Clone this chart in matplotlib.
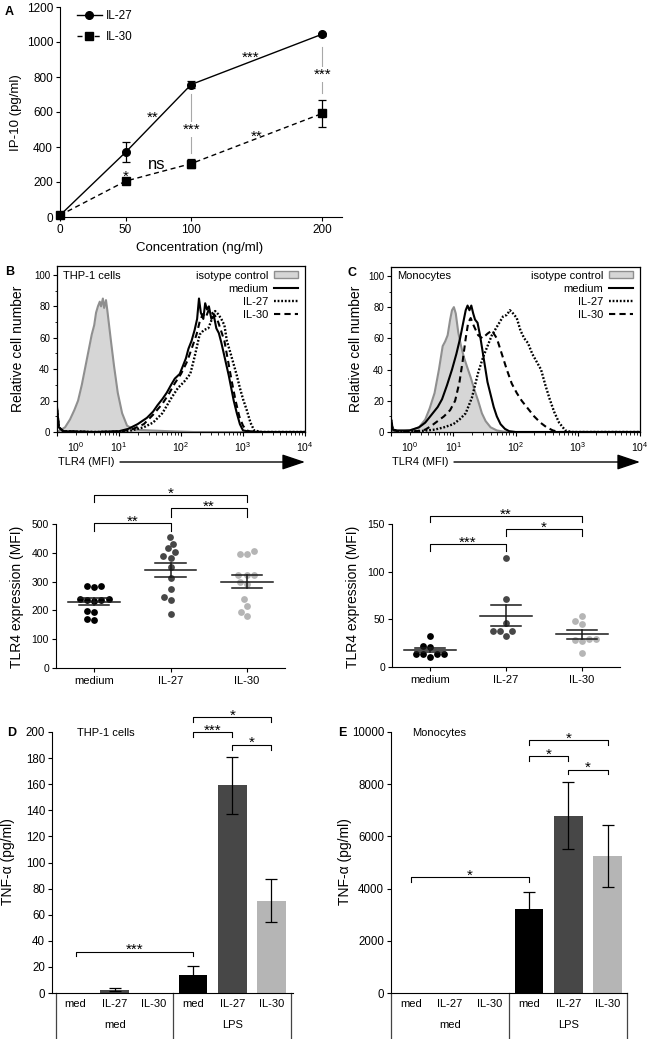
import numpy as np
import matplotlib
matplotlib.use('Agg')
import matplotlib.pyplot as plt
from matplotlib.lines import Line2D
from matplotlib.patches import Patch
from matplotlib.transforms import ScaledTranslation, blended_transform_factory
from matplotlib.ticker import FixedLocator, NullFormatter, LogLocator, MultipleLocator

plt.rcParams['font.family'] = ['Liberation Sans', 'DejaVu Sans']
plt.rcParams['mathtext.fontset'] = 'custom'
plt.rcParams['mathtext.rm'] = 'Liberation Sans'
plt.rcParams['mathtext.it'] = 'Liberation Sans'
plt.rcParams['mathtext.bf'] = 'Liberation Sans:bold'
plt.rcParams['lines.scale_dashes'] = False
plt.rcParams['axes.linewidth'] = 0.8
for a in ('xtick', 'ytick'):
    plt.rcParams[a + '.direction'] = 'out'
    plt.rcParams[a + '.major.size'] = 3
    plt.rcParams[a + '.major.width'] = 0.8
    plt.rcParams[a + '.minor.size'] = 1.8
    plt.rcParams[a + '.minor.width'] = 0.6
    plt.rcParams[a + '.major.pad'] = 2

# ---------------- data ----------------
# Panel A
conc = [0, 50, 100, 200]
il27_ip10 = [10, 370, 757, 1045]
il27_ip10_err = [4, 58, 20, 8]
il30_ip10 = [10, 205, 305, 592]
il30_ip10_err = [4, 12, 26, 77]

# Panel B histograms (log10 MFI, % of max)
b_iso_log = [0.0, 0.05, 0.13, 0.21, 0.28, 0.34, 0.40, 0.45, 0.50, 0.56, 0.60, 0.63, 0.66, 0.69, 0.71, 0.74,
             0.76, 0.79, 0.81, 0.84, 0.87, 0.92, 0.98, 1.05, 1.13, 1.25, 1.5, 1.8, 2.2, 4.0]
b_iso_val = [0, 1, 3, 8, 14, 20, 30, 40, 50, 62, 68, 76, 80, 83, 80, 85,
             79, 84, 78, 68, 58, 42, 25, 12, 4, 1.5, 1, 0.5, 0, 0]
b_med_log = [0.0, 0.03, 0.1, 0.6, 1.0, 1.15, 1.3, 1.45, 1.55, 1.62, 1.7, 1.77, 1.84, 1.9, 1.98, 2.03, 2.08,
             2.12, 2.17, 2.22, 2.26, 2.29, 2.32, 2.36, 2.39, 2.42, 2.45, 2.49, 2.53, 2.57, 2.61, 2.65, 2.69,
             2.73, 2.77, 2.81, 2.85, 2.9, 2.95, 3.0, 3.1, 3.3, 4.0]
b_med_val = [16, 3, 0.5, 0, 0.5, 2, 5, 9, 13, 17, 21, 25, 30, 34, 37, 42, 47,
             53, 58, 65, 72, 85, 76, 72, 82, 78, 80, 72, 74, 66, 63, 57, 50,
             43, 36, 28, 20, 12, 5, 1, 0.3, 0, 0]
b_il30_log = [0.0, 0.03, 0.1, 0.6, 1.0, 1.2, 1.4, 1.55, 1.7, 1.8, 1.9, 2.0, 2.1, 2.18, 2.25, 2.3, 2.35,
              2.4, 2.45, 2.5, 2.55, 2.6, 2.65, 2.7, 2.76, 2.82, 2.88, 2.94, 3.0, 3.06, 3.12, 3.3, 4.0]
b_il30_val = [15, 3, 0.5, 0, 0.3, 1.5, 5, 11, 18, 24, 31, 37, 45, 54, 62, 70, 75,
              73, 78, 76, 74, 70, 64, 58, 45, 32, 20, 10, 4, 1, 0.3, 0, 0]
b_il27_log = [0.0, 0.03, 0.1, 0.6, 1.0, 1.2, 1.4, 1.55, 1.7, 1.85, 1.95, 2.05, 2.15, 2.22, 2.3, 2.37,
              2.44, 2.5, 2.55, 2.6, 2.65, 2.7, 2.74, 2.8, 2.85, 2.9, 2.95, 3.0, 3.06, 3.12, 3.18, 3.3, 4.0]
b_il27_val = [14, 3, 0.5, 0, 0.2, 1, 3, 6, 12, 22, 28, 32, 37, 48, 62, 65,
              66, 72, 77, 75, 72, 68, 58, 50, 43, 36, 28, 21, 14, 6, 1, 0, 0]

# Panel C histograms
c_iso_log = [0.0, 0.2, 0.35, 0.45, 0.55, 0.62, 0.7, 0.77, 0.83, 0.87, 0.91, 0.95, 0.98, 1.01, 1.04, 1.08,
             1.12, 1.17, 1.22, 1.28, 1.34, 1.4, 1.46, 1.52, 1.6, 1.7, 1.8, 2.0, 4.0]
c_iso_val = [0.5, 0.5, 1.5, 3, 8, 15, 25, 40, 55, 58, 62, 72, 78, 80, 76, 64,
             56, 48, 42, 35, 27, 20, 12, 7, 3, 1, 0.3, 0, 0]
c_med_log = [0.0, 0.03, 0.1, 0.3, 0.45, 0.55, 0.65, 0.75, 0.82, 0.9, 0.98, 1.05, 1.11, 1.16, 1.2, 1.23,
             1.26, 1.29, 1.32, 1.35, 1.39, 1.43, 1.47, 1.51, 1.55, 1.6, 1.65, 1.7, 1.76, 1.83, 1.9, 2.0, 4.0]
c_med_val = [8, 1.5, 1, 1, 3, 6, 11, 16, 21, 30, 40, 50, 60, 70, 78, 81,
             78, 81, 76, 72, 70, 62, 52, 42, 32, 24, 16, 10, 5, 2, 0.5, 0, 0]
c_il30_log = [0.0, 0.03, 0.1, 0.4, 0.55, 0.65, 0.75, 0.85, 0.95, 1.03, 1.1, 1.15, 1.2, 1.24, 1.28, 1.33,
              1.4, 1.47, 1.55, 1.62, 1.7, 1.78, 1.86, 1.94, 2.02, 2.1, 2.2, 2.3, 2.4, 2.5, 2.6, 2.7, 4.0]
c_il30_val = [8, 1.5, 0.5, 0.5, 1.5, 4, 7, 10, 14, 20, 32, 45, 60, 70, 73, 68,
              62, 60, 63, 65, 60, 50, 40, 31, 25, 20, 15, 10, 6, 3, 1, 0, 0]
c_il27_log = [0.0, 0.03, 0.1, 0.45, 0.7, 0.85, 1.0, 1.1, 1.2, 1.3, 1.4, 1.48, 1.55, 1.62, 1.68, 1.74,
              1.8, 1.86, 1.91, 1.96, 2.02, 2.08, 2.14, 2.2, 2.27, 2.34, 2.41, 2.48, 2.55, 2.62, 2.7, 2.8, 2.9, 4.0]
c_il27_val = [8, 1.5, 0.5, 0.5, 1.5, 3, 5, 8, 12, 22, 38, 48, 55, 62, 66, 70,
              74, 75, 78, 76, 73, 65, 60, 57, 50, 45, 40, 30, 21, 13, 6, 1, 0, 0]

# Scatter data (TLR4 MFI)
groups = ['medium', 'IL-27', 'IL-30']
thp_medium = [285, 280, 285, 240, 235, 232, 237, 240, 195, 197, 165, 170]
thp_il27 = [454, 432, 415, 404, 390, 383, 350, 313, 275, 247, 235, 188]
thp_il30 = [407, 397, 397, 324, 322, 324, 300, 290, 240, 217, 195, 179]
mono_medium = [32, 22, 21, 14, 14, 14, 14, 11]
mono_il27 = [114, 71, 46, 38, 33, 38, 38]
mono_il30 = [54, 45, 48, 29, 28, 27, 29, 15]

# Bar data (TNF-a)
bar_cats = ['med', 'IL-27', 'IL-30', 'med', 'IL-27', 'IL-30']
bar_groups = ['med', 'LPS']
thp_tnf = [0.3, 2.5, 0.0, 13.5, 159.5, 70.6]
thp_tnf_lo = [0.0, 1.5, 0.0, 6.6, 137.5, 54.3]
thp_tnf_hi = [0.0, 3.8, 0.0, 20.4, 181.0, 87.0]
mono_tnf = [0, 0, 0, 3211, 6789, 5249]
mono_tnf_lo = [0, 0, 0, 2560, 5528, 4052]
mono_tnf_hi = [0, 0, 0, 3861, 8066, 6422]

# ---------------- figure ----------------
W, H = 651, 1039
fig = plt.figure(figsize=(W / 100, H / 100), dpi=100)


def add_ax(l, t, r, b):
    return fig.add_axes([l / W, 1 - b / H, (r - l) / W, (b - t) / H])


def ftext(x, y, s, **kw):
    return fig.text(x / W, 1 - y / H, s, **kw)


def star(ax, x, y, s, dy_px=0.0, fs=11, **kw):
    # put glyph centre of asterisks dy_px above (x, y)
    off = (dy_px - 0.31 * fs * 100 / 72) * 0.72
    return ax.annotate(s, (x, y), xytext=(0, off), textcoords='offset points',
                       ha='center', va='center', fontsize=fs, annotation_clip=False, **kw)


def bracket(ax, x1, x2, ytop, yleg, s):
    ax.plot([x1, x1, x2, x2], [yleg, ytop, ytop, yleg], color='k', lw=0.8, clip_on=False)
    star(ax, (x1 + x2) / 2, ytop, s, dy_px=6)


GRAY_DARK = '#474747'
GRAY_LIGHT = '#b5b5b5'

# ---------------- Panel A ----------------
axA = add_ax(60, 7, 342, 217)
axA.plot(conc, il27_ip10, '-', color='k', lw=1.0, clip_on=False, zorder=3)
axA.plot(conc, il30_ip10, color='k', lw=1.0, dashes=(3.6, 2.6), clip_on=False, zorder=3)
axA.errorbar(conc, il27_ip10, yerr=il27_ip10_err, fmt='o', color='k', ms=5.5, capsize=3,
             elinewidth=0.9, capthick=0.9, clip_on=False, zorder=4)
axA.errorbar(conc, il30_ip10, yerr=il30_ip10_err, fmt='s', color='k', ms=5.2, capsize=3,
             elinewidth=0.9, capthick=0.9, clip_on=False, zorder=4)
axA.set_xlim(0, 215)
axA.set_ylim(0, 1200)
axA.set_xticks(conc)
axA.set_yticks(range(0, 1201, 200))
axA.tick_params(labelsize=8.5)
for sp in ('top', 'right'):
    axA.spines[sp].set_visible(False)
# gray comparison lines
axA.plot([100, 100], [700, 368], color='#a8a8a8', lw=0.8, zorder=1)
axA.plot([200, 200], [972, 706], color='#a8a8a8', lw=0.8, zorder=1)
wb = dict(facecolor='white', edgecolor='none', pad=0.5)
star(axA, 50, 257, '*')
star(axA, 71, 594, '**')
star(axA, 145, 937, '***')
star(axA, 100, 526, '***', bbox=wb)
star(axA, 200, 840, '***', bbox=wb)
star(axA, 150, 486, '**')
axA.text(74, 302, 'ns', ha='center', va='center', fontsize=12)
legA = axA.legend([Line2D([], [], color='k', marker='o', ms=5.5, lw=1.0),
                   Line2D([], [], color='k', marker='s', ms=5.2, lw=1.0, dashes=(3.6, 2.6))],
                  ['IL-27', 'IL-30'], loc='upper left', bbox_to_anchor=((77 - 60) / 282, (217 - 10) / 210),
                  frameon=False, fontsize=8.5, handlelength=2.1, handletextpad=0.35, labelspacing=0.75,
                  borderpad=0, borderaxespad=0)
ftext(16, 113, 'IP-10 (pg/ml)', rotation=90, ha='center', va='center', fontsize=9.5)
ftext(200, 248, 'Concentration (ng/ml)', ha='center', va='center', fontsize=9.5)
ftext(5, 12, 'A', weight='bold', fontsize=9, va='center')


# ---------------- Histograms ----------------
def hist_panel(l, t, r, b, iso, med, il27, il30, title, legx):
    ax = add_ax(l, t, r, b)
    ax.set_xscale('log')
    ax.set_xlim(1, 1e4)
    ax.set_ylim(0, 105.7)
    xi = 10 ** np.array(iso[0])
    ax.fill_between(xi, iso[1], color='#d6d6d6', lw=0, zorder=1)
    ax.plot(xi, iso[1], color='#8f8f8f', lw=1.5, zorder=2)
    ax.plot(10 ** np.array(med[0]), med[1], color='k', lw=1.5, zorder=3)
    ax.plot(10 ** np.array(il27[0]), il27[1], color='k', lw=1.7, dashes=(1.3, 1.3), zorder=3)
    ax.plot(10 ** np.array(il30[0]), il30[1], color='k', lw=1.5, dashes=(4.5, 3.0), zorder=3)
    ax.set_yticks(range(0, 101, 20))
    ax.yaxis.set_minor_locator(MultipleLocator(10))
    ax.xaxis.set_major_locator(FixedLocator([1, 10, 100, 1000, 10000]))
    ax.xaxis.set_minor_locator(LogLocator(base=10, subs=np.arange(2, 10), numticks=20))
    ax.xaxis.set_minor_formatter(NullFormatter())
    ax.set_xticklabels([r'$10^{0}$', r'$10^{1}$', r'$10^{2}$', r'$10^{3}$', r'$10^{4}$'])
    ax.tick_params(axis='x', which='both', labelsize=7.5, top=False, pad=3)
    ax.tick_params(axis='y', which='both', labelsize=7, right=False)
    lab0 = ax.get_xticklabels()[0]
    lab0.set_transform(lab0.get_transform() + ScaledTranslation(19 / 100, 0, fig.dpi_scale_trans))
    for sp in ax.spines.values():
        sp.set_linewidth(0.9)
    ax.text((legx[0] - l) / (r - l), (b - 276) / (b - t), title, transform=ax.transAxes,
            ha='left', va='center', fontsize=8)
    handles = [Patch(facecolor='#d6d6d6', edgecolor='#8f8f8f', lw=1.0),
               Line2D([], [], color='k', lw=1.5),
               Line2D([], [], color='k', lw=1.7, dashes=(1.3, 1.3)),
               Line2D([], [], color='k', lw=1.5, dashes=(4.5, 3.0))]
    ax.legend(handles, ['isotype control', 'medium', 'IL-27', 'IL-30'], loc='upper right',
              bbox_to_anchor=((legx[1] - l) / (r - l), (b - 270.5) / (b - t)), frameon=False,
              markerfirst=False, fontsize=8, handlelength=2.2, handletextpad=0.5,
              labelspacing=0.28, borderpad=0, borderaxespad=0, handleheight=0.5)
    # arrow label
    ax.text((l + 1 - l) / (r - l), (b - 462) / (b - t), 'TLR4 (MFI)', transform=ax.transAxes,
            ha='left', va='center', fontsize=8)
    ax.annotate('', xy=(1.0, (b - 462) / (b - t)), xytext=((l + 63 - l) / (r - l), (b - 462) / (b - t)),
                xycoords='axes fraction', textcoords='axes fraction', annotation_clip=False,
                arrowprops=dict(arrowstyle='-|>,head_length=0.95,head_width=0.32', mutation_scale=15,
                                lw=1.0, color='k', shrinkA=0, shrinkB=0))
    return ax


hist_panel(57, 266, 305, 432, (b_iso_log, b_iso_val), (b_med_log, b_med_val),
           (b_il27_log, b_il27_val), (b_il30_log, b_il30_val), 'THP-1 cells', (63, 298))
hist_panel(391, 267, 640, 432, (c_iso_log, c_iso_val), (c_med_log, c_med_val),
           (c_il27_log, c_il27_val), (c_il30_log, c_il30_val), 'Monocytes', (397, 633))
ftext(18, 349, 'Relative cell number', rotation=90, ha='center', va='center', fontsize=10)
ftext(356, 349, 'Relative cell number', rotation=90, ha='center', va='center', fontsize=10)
ftext(5, 272, 'B', weight='bold', fontsize=9, va='center')
ftext(347, 273, 'C', weight='bold', fontsize=9, va='center')


# ---------------- Scatter panels ----------------
def swarm_offsets(ax, xc, vals, d):
    pts = ax.transData.transform(np.column_stack([np.full(len(vals), xc), vals]))
    ys = pts[:, 1]
    order = np.argsort(ys, kind='stable')
    placed = []
    offs = np.zeros(len(vals))
    for i in order:
        y = ys[i]
        cands = [0.0]
        for (px_, py_) in placed:
            dy = abs(py_ - y)
            if dy < d:
                dx = np.sqrt(d * d - dy * dy)
                cands += [px_ - dx, px_ + dx]
        cands = sorted(cands, key=lambda c: (abs(c), c))
        chosen = cands[-1]
        for c in cands:
            if all((c - px_) ** 2 + (y - py_) ** 2 >= d * d - 1e-6 for px_, py_ in placed):
                chosen = c
                break
        placed.append((chosen, y))
        offs[i] = chosen
    x0 = pts[0, 0]
    inv = ax.transData.inverted()
    return np.array([inv.transform((x0 + o, ys[0]))[0] for o in offs])


def scatter_panel(l, t, r, b, data, ymax, ystep, brackets):
    ax = add_ax(l, t, r, b)
    ax.set_xlim(-0.5, 2.5)
    ax.set_ylim(0, ymax)
    colors = ['k', GRAY_DARK, GRAY_LIGHT]
    for i, vals in enumerate(data):
        xs = swarm_offsets(ax, i, vals, 7.3)
        ax.scatter(xs, vals, s=24, color=colors[i], lw=0, zorder=2)
        v = np.array(vals, float)
        m = v.mean()
        sem = v.std(ddof=1) / np.sqrt(len(v))
        ax.plot([i - 0.34, i + 0.34], [m, m], color='#1a1a1a', lw=1.1, zorder=3)
        ax.plot([i - 0.2, i + 0.2], [m + sem, m + sem], color='#1a1a1a', lw=1.1, zorder=3)
        ax.plot([i - 0.2, i + 0.2], [m - sem, m - sem], color='#1a1a1a', lw=1.1, zorder=3)
        ax.plot([i, i], [m - sem, m + sem], color='#1a1a1a', lw=1.1, zorder=3)
    ax.set_xticks([0, 1, 2])
    ax.set_xticklabels(groups)
    ax.set_yticks(np.arange(0, ymax + 1, ystep))
    ax.tick_params(axis='x', labelsize=8, pad=3)
    ax.tick_params(axis='y', labelsize=7.5)
    for sp in ('top', 'right'):
        ax.spines[sp].set_visible(False)
    for (x1, x2, yt, yl, s) in brackets:
        bracket(ax, x1, x2, yt, yl, s)
    return ax


scatter_panel(56, 524, 285, 668, [thp_medium, thp_il27, thp_il30], 500, 100,
              [(0, 1, 502, 474, '**'), (0, 2, 599, 578, '*'), (1, 2, 554, 526, '**')])
scatter_panel(392, 524, 620, 667, [mono_medium, mono_il27, mono_il30], 150, 50,
              [(0, 1, 128.7, 122, '***'), (0, 2, 158.5, 152, '**'), (1, 2, 144.5, 137, '*')])
ftext(17, 597, 'TLR4 expression (MFI)', rotation=90, ha='center', va='center', fontsize=10)
ftext(353, 597, 'TLR4 expression (MFI)', rotation=90, ha='center', va='center', fontsize=10)


# ---------------- Bar panels ----------------
def bar_panel(l, t, r, b, vals, lo, hi, ymax, ystep, xlim, brackets, title, titlex):
    ax = add_ax(l, t, r, b)
    ax.set_xlim(*xlim)
    ax.set_ylim(0, ymax)
    x = np.arange(len(vals))
    colors = ['k', GRAY_DARK, GRAY_LIGHT] * 2
    ax.bar(x, vals, width=0.73, color=colors, lw=0, zorder=2)
    for i in range(len(vals)):
        if hi[i] > 0:
            ax.errorbar(i, vals[i], yerr=[[vals[i] - lo[i]], [hi[i] - vals[i]]], fmt='none',
                        ecolor='k', elinewidth=0.9, capsize=4.6, capthick=0.9, zorder=3)
    ax.set_yticks(np.arange(0, ymax + 1, ystep))
    ax.set_xticks([])
    ax.tick_params(axis='y', labelsize=8.3)
    for sp in ('top', 'right'):
        ax.spines[sp].set_visible(False)
    tr = blended_transform_factory(ax.transData, ax.transAxes)
    h = b - t
    for i, c in enumerate(bar_cats):
        ax.text(i, -11 / h, c, transform=tr, ha='center', va='center', fontsize=8)
    for j, g in enumerate(bar_groups):
        ax.text(1 + 3 * j, -32 / h, g, transform=tr, ha='center', va='center', fontsize=8)
    for xv in (-0.5, 2.5, 5.5):
        ax.plot([xv, xv], [0, -60 / h], transform=tr, color='#444444', lw=0.9, clip_on=False)
    for (x1, x2, yt, yl, s) in brackets:
        bracket(ax, x1, x2, yt, yl, s)
    ax.text((titlex - l) / (r - l), (b - 733) / h, title, transform=ax.transAxes,
            ha='left', va='center', fontsize=8)
    return ax


bar_panel(52, 732, 293, 993, thp_tnf, thp_tnf_lo, thp_tnf_hi, 200, 20, (-0.6, 5.55),
          [(0, 3, 31.8, 28, '***'), (3, 4, 200, 196, '***'), (3, 5, 211.5, 207.6, '*'),
           (4, 5, 190.4, 186.5, '*')], 'THP-1 cells', 77)
bar_panel(391, 732, 627, 993, mono_tnf, mono_tnf_lo, mono_tnf_hi, 10000, 2000, (-0.5, 5.49),
          [(0, 3, 4458, 4266, '*'), (3, 5, 9709, 9518, '*'), (3, 4, 9083, 8891, '*'),
           (4, 5, 8563, 8383, '*')], 'Monocytes', 412)
ftext(8, 862, 'TNF-α (pg/ml)', rotation=90, ha='center', va='center', fontsize=10)
ftext(345, 862, 'TNF-α (pg/ml)', rotation=90, ha='center', va='center', fontsize=10)
ftext(7, 733, 'D', weight='bold', fontsize=9, va='center')
ftext(338, 733, 'E', weight='bold', fontsize=9, va='center')

fig.savefig('out.png', dpi=100)
